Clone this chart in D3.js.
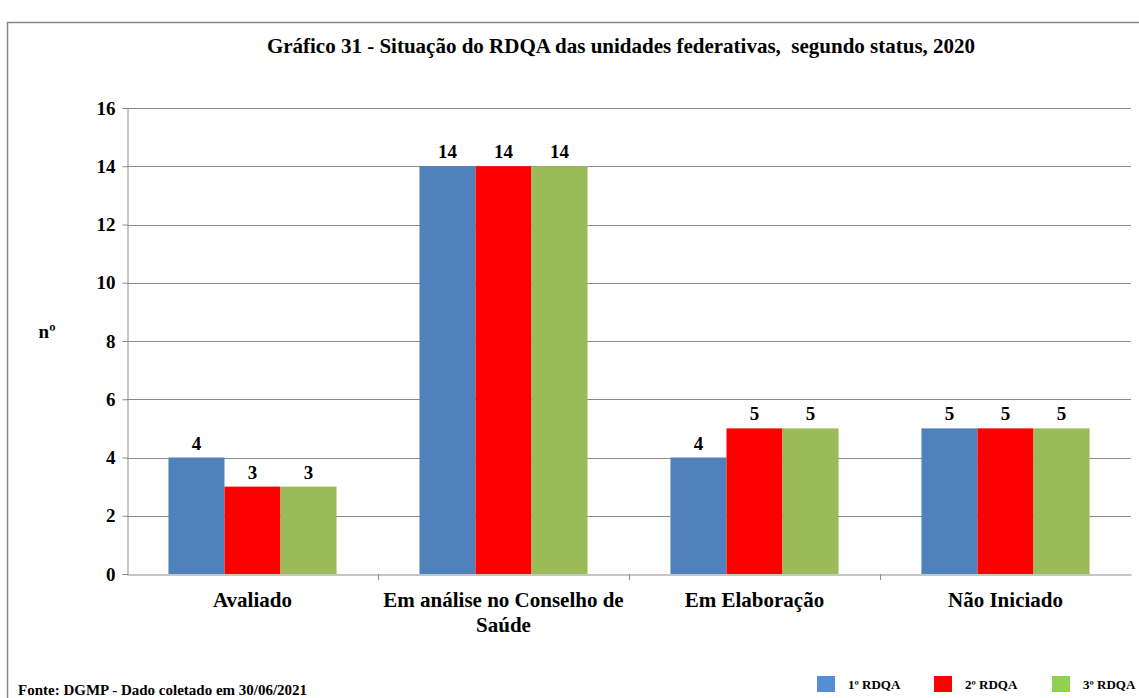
<!DOCTYPE html>
<html><head><meta charset="utf-8">
<script src="https://cdn.jsdelivr.net/npm/d3@7"></script>
<style>body{margin:0;background:#fff;} svg text{font-family:"Liberation Serif","Times New Roman","DejaVu Serif",serif !important;}</style>
</head><body>
<svg id="c" width="1139" height="698"></svg>
<script>
const categories = ["Avaliado", "Em análise no Conselho de Saúde", "Em Elaboração", "Não Iniciado"];
const categoryLines = [["Avaliado"], ["Em análise no Conselho de", "Saúde"], ["Em Elaboração"], ["Não Iniciado"]];
const seriesNames = ["1º RDQA", "2º RDQA", "3º RDQA"];
const rdqa1 = [4, 14, 4, 5];
const rdqa2 = [3, 14, 5, 5];
const rdqa3 = [3, 14, 5, 5];
const yTicks = [0, 2, 4, 6, 8, 10, 12, 14, 16];
const title = "Gráfico 31 - Situação do RDQA das unidades federativas,  segundo status, 2020";
const source = "Fonte: DGMP - Dado coletado em 30/06/2021";

const barColors = ["#4F81BD", "#FF0000", "#9BBB59"];
const legendColors = ["#558ED5", "#FF0000", "#92D050"];
const series = [rdqa1, rdqa2, rdqa3];

const svg = d3.select("#c");
// outer border
svg.append("path").attr("d", "M7.5,698 V22.5 H1139").attr("fill", "none").attr("stroke", "#888").attr("stroke-width", 1.5);

svg.append("text").attr("x", 621).attr("y", 53).attr("text-anchor", "middle")
  .attr("font-size", 21).attr("font-weight", "bold").style("white-space", "pre").text(title);

const pL = 127, pR = 1131, pT = 108, pB = 574;
const x0 = d3.scaleBand().domain(categories).range([pL, pR]).paddingInner(0).paddingOuter(0);
const x1 = d3.scaleBand().domain(seriesNames).range([0, x0.bandwidth()]).paddingOuter(0.74).paddingInner(0);
const y = d3.scaleLinear().domain([0, 16]).range([pB, pT]);

// gridlines
svg.append("g").selectAll("line").data(yTicks.filter(d => d > 0)).join("line")
  .attr("x1", pL).attr("x2", pR).attr("y1", d => Math.round(y(d)) + 0.5).attr("y2", d => Math.round(y(d)) + 0.5)
  .attr("stroke", "#8c8c8c").attr("stroke-width", 1);

// y axis
const yAxis = svg.append("g").attr("transform", `translate(${pL + 0.5},0)`)
  .call(d3.axisLeft(y).tickValues(yTicks).tickSize(5).tickPadding(7));
yAxis.select(".domain").attr("stroke", "#8c8c8c");
yAxis.selectAll(".tick line").attr("stroke", "#8c8c8c");
yAxis.selectAll(".tick text").attr("font-size", 19).attr("font-weight", "bold").attr("fill", "#000");

// bars
const g = svg.append("g");
categories.forEach((c, i) => {
  series.forEach((s, j) => {
    g.append("rect").attr("x", x0(c) + x1(seriesNames[j])).attr("y", y(s[i]))
      .attr("width", x1.bandwidth()).attr("height", y(0) - y(s[i])).attr("fill", barColors[j]);
    g.append("text").attr("x", x0(c) + x1(seriesNames[j]) + x1.bandwidth() / 2).attr("y", y(s[i]) - 8)
      .attr("text-anchor", "middle").attr("font-size", 19).attr("font-weight", "bold").text(s[i]);
  });
});

// x axis
const xAxis = svg.append("g").attr("transform", `translate(0,${pB + 0.5})`)
  .call(d3.axisBottom(x0).tickSize(0).tickFormat(""));
xAxis.select(".domain").attr("stroke", "#8c8c8c");
svg.append("g").selectAll("line").data(categories.slice(1)).join("line")
  .attr("x1", d => Math.round(x0(d)) + 0.5).attr("x2", d => Math.round(x0(d)) + 0.5)
  .attr("y1", pB).attr("y2", pB + 6).attr("stroke", "#8c8c8c");

categories.forEach((c, i) => {
  const t = svg.append("text").attr("text-anchor", "middle").attr("font-size", 21).attr("font-weight", "bold");
  categoryLines[i].forEach((ln, k) => {
    t.append("tspan").attr("x", x0(c) + x0.bandwidth() / 2).attr("y", 607 + k * 25).text(ln);
  });
});

// y label
svg.append("text").attr("x", 47).attr("y", 338).attr("text-anchor", "middle").attr("font-size", 19)
  .attr("font-weight", "bold").text("nº");

// legend
const legX = [817, 934, 1052];
seriesNames.forEach((n, j) => {
  svg.append("rect").attr("x", legX[j]).attr("y", 676).attr("width", 18).attr("height", 16).attr("fill", legendColors[j]);
  svg.append("text").attr("x", legX[j] + 31).attr("y", 689).attr("font-size", 13).attr("font-weight", "bold").text(n);
});

// source
svg.append("text").attr("x", 18).attr("y", 695).attr("font-size", 15).attr("font-weight", "bold").text(source);
</script>
</body></html>
